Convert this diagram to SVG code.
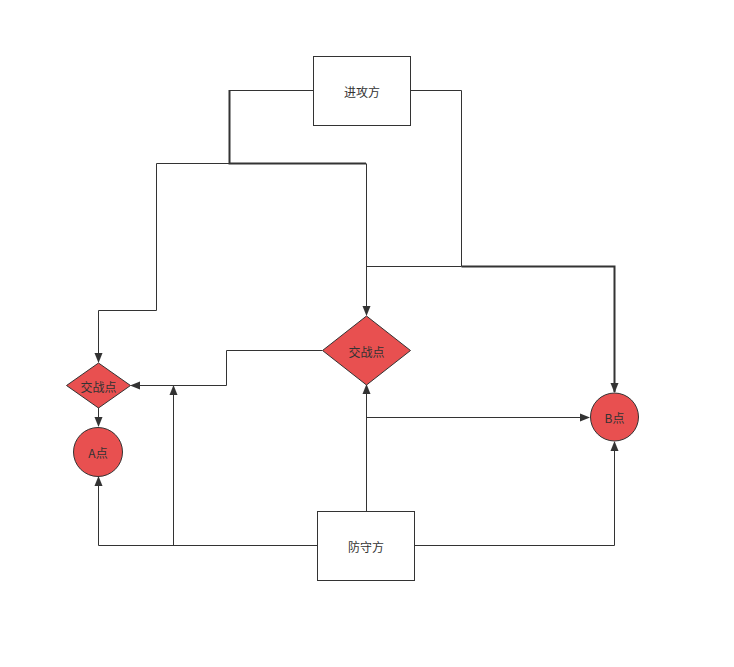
<svg xmlns="http://www.w3.org/2000/svg" width="734" height="667" viewBox="0 0 734 667">
<style>
.box{fill:#fff;stroke:#333;stroke-width:1}
.red{fill:#e85050;stroke:#333;stroke-width:1}
.t{font-family:"Noto Sans CJK SC","Liberation Sans",sans-serif;font-size:12px;fill:#333;text-anchor:middle;dominant-baseline:central}
.c{fill:none;stroke:#333;stroke-width:1}
.thick{fill:none;stroke:#333;stroke-width:2}
</style>
<defs>
<marker id="ar" markerWidth="10" markerHeight="10" refX="9" refY="5" orient="auto" markerUnits="userSpaceOnUse">
<path d="M0,1 L10,5 L0,9 Z" fill="#333"/>
</marker>
</defs>
<rect width="734" height="667" fill="#fff"/>
<g id="connectors">
<path class="c" d="M313,90.5 H229.5"/>
<path class="thick" d="M229.5,90 V163.5 H366"/>
<path class="c" d="M229.5,163.5 H156.5 V310.5 H98.5 V362" marker-end="url(#ar)"/>
<path class="c" d="M366.5,163.5 V315" marker-end="url(#ar)"/>
<path class="c" d="M410,90.5 H461.5 V266.5"/>
<path class="c" d="M366.5,266.5 H461.5"/>
<path class="thick" d="M461.5,266.5 H614.5 V392" marker-end="url(#ar)"/>
<path class="c" d="M322,350.5 H226.5 V385.5 H131" marker-end="url(#ar)"/>
<path class="c" d="M317,545.5 H98.5 V477" marker-end="url(#ar)"/>
<path class="c" d="M173.5,545.5 V386" marker-end="url(#ar)"/>
<path class="c" d="M366.5,511 V385" marker-end="url(#ar)"/>
<path class="c" d="M366.5,417.5 H589" marker-end="url(#ar)"/>
<path class="c" d="M415,545.5 H614.5 V442" marker-end="url(#ar)"/>
<path class="c" d="M98.5,407 V426" marker-end="url(#ar)"/>
</g>
<g id="attacker">
<rect class="box" x="313.5" y="56.5" width="97" height="69"/>
<text class="t" x="362" y="91">进攻方</text>
</g>
<g id="defender">
<rect class="box" x="317.5" y="511.5" width="97" height="69"/>
<text class="t" x="366" y="546">防守方</text>
</g>
<g id="clash1">
<path class="red" d="M98.5,363 L130.5,385.5 L98.5,408 L66.5,385.5 Z"/>
<text class="t" x="98.5" y="386">交战点</text>
</g>
<g id="clash2">
<path class="red" d="M366.5,316 L410.5,350.5 L366.5,385 L322.5,350.5 Z"/>
<text class="t" x="366.5" y="351">交战点</text>
</g>
<g id="pointA">
<circle class="red" cx="98" cy="452" r="24.5"/>
<text class="t" x="98" y="452">A点</text>
</g>
<g id="pointB">
<circle class="red" cx="614.5" cy="417" r="24"/>
<text class="t" x="614.5" y="417">B点</text>
</g>
</svg>
